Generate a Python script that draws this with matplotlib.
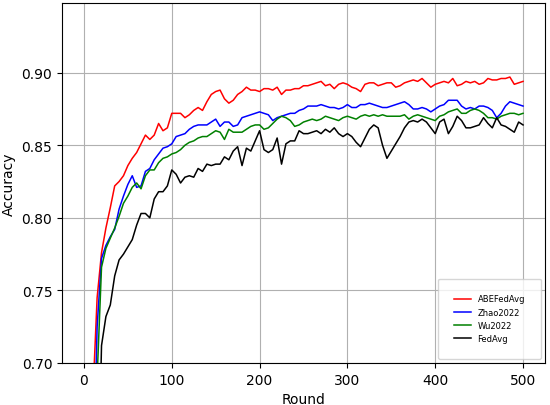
import matplotlib
matplotlib.use("Agg")
import matplotlib.pyplot as plt

# accuracy per round, every 5 rounds
rounds = list(range(0, 501, 5))

abefedavg = [0.30, 0.50, 0.675, 0.745, 0.776, 0.793, 0.807, 0.822, 0.825, 0.829,
             0.836, 0.841, 0.845, 0.851, 0.857, 0.854, 0.857, 0.865, 0.860, 0.862,
             0.872, 0.872, 0.872, 0.869, 0.871, 0.874, 0.876, 0.874, 0.880, 0.885,
             0.887, 0.888, 0.882, 0.879, 0.881, 0.885, 0.887, 0.890, 0.888, 0.888,
             0.887, 0.889, 0.889, 0.888, 0.890, 0.885, 0.888, 0.888, 0.889, 0.889,
             0.891, 0.891, 0.892, 0.893, 0.894, 0.891, 0.892, 0.889, 0.892, 0.893,
             0.892, 0.890, 0.889, 0.887, 0.892, 0.893, 0.893, 0.891, 0.892, 0.893,
             0.893, 0.890, 0.891, 0.893, 0.894, 0.895, 0.894, 0.896, 0.893, 0.890,
             0.892, 0.893, 0.894, 0.893, 0.896, 0.891, 0.892, 0.894, 0.893, 0.894,
             0.892, 0.893, 0.896, 0.895, 0.895, 0.896, 0.896, 0.897, 0.892, 0.893,
             0.894]

zhao2022 = [0.25, 0.42, 0.60, 0.725, 0.772, 0.781, 0.787, 0.792, 0.806, 0.815,
            0.823, 0.829, 0.821, 0.822, 0.832, 0.834, 0.840, 0.844, 0.848, 0.849,
            0.851, 0.856, 0.857, 0.858, 0.861, 0.863, 0.864, 0.864, 0.864, 0.866,
            0.868, 0.863, 0.866, 0.866, 0.863, 0.864, 0.869, 0.870, 0.871, 0.872,
            0.873, 0.872, 0.871, 0.867, 0.869, 0.870, 0.871, 0.872, 0.872, 0.874,
            0.875, 0.877, 0.877, 0.877, 0.878, 0.877, 0.876, 0.876, 0.875, 0.876,
            0.878, 0.876, 0.876, 0.878, 0.878, 0.879, 0.878, 0.877, 0.876, 0.876,
            0.877, 0.878, 0.879, 0.880, 0.878, 0.875, 0.875, 0.876, 0.875, 0.873,
            0.875, 0.877, 0.878, 0.881, 0.881, 0.881, 0.877, 0.875, 0.876, 0.875,
            0.877, 0.877, 0.876, 0.874, 0.869, 0.872, 0.877, 0.880, 0.879, 0.878,
            0.877]

wu2022 = [0.22, 0.38, 0.55, 0.69, 0.766, 0.779, 0.786, 0.793, 0.801, 0.810,
          0.815, 0.821, 0.824, 0.820, 0.829, 0.833, 0.833, 0.838, 0.841, 0.842,
          0.844, 0.845, 0.847, 0.850, 0.852, 0.853, 0.855, 0.856, 0.856, 0.858,
          0.860, 0.859, 0.854, 0.861, 0.859, 0.859, 0.859, 0.861, 0.863, 0.864,
          0.864, 0.861, 0.862, 0.865, 0.868, 0.870, 0.869, 0.867, 0.863, 0.864,
          0.866, 0.867, 0.868, 0.867, 0.868, 0.870, 0.869, 0.868, 0.867, 0.869,
          0.870, 0.869, 0.868, 0.870, 0.871, 0.870, 0.871, 0.870, 0.871, 0.870,
          0.870, 0.870, 0.870, 0.871, 0.868, 0.870, 0.871, 0.870, 0.869, 0.868,
          0.867, 0.870, 0.871, 0.873, 0.874, 0.875, 0.872, 0.872, 0.874, 0.875,
          0.874, 0.872, 0.869, 0.869, 0.868, 0.870, 0.871, 0.872, 0.872, 0.871,
          0.872]

fedavg = [0.10, 0.25, 0.42, 0.58, 0.712, 0.732, 0.740, 0.760, 0.771, 0.775,
          0.780, 0.785, 0.795, 0.803, 0.803, 0.800, 0.813, 0.818, 0.818, 0.822,
          0.833, 0.830, 0.824, 0.828, 0.829, 0.828, 0.834, 0.832, 0.837, 0.836,
          0.837, 0.837, 0.842, 0.840, 0.846, 0.849, 0.836, 0.848, 0.846, 0.853,
          0.860, 0.847, 0.845, 0.847, 0.855, 0.837, 0.851, 0.853, 0.853, 0.860,
          0.858, 0.858, 0.859, 0.860, 0.858, 0.861, 0.859, 0.862, 0.858, 0.856,
          0.858, 0.856, 0.852, 0.849, 0.855, 0.861, 0.864, 0.862, 0.850, 0.841,
          0.846, 0.851, 0.856, 0.862, 0.866, 0.867, 0.866, 0.868, 0.866, 0.862,
          0.858, 0.866, 0.868, 0.858, 0.863, 0.870, 0.867, 0.862, 0.862, 0.863,
          0.864, 0.869, 0.865, 0.862, 0.869, 0.864, 0.863, 0.861, 0.859, 0.866,
          0.864]

fig, ax = plt.subplots(figsize=(5.5, 4.06), dpi=100)
fig.subplots_adjust(left=62/550, right=545/550, top=1-4/406, bottom=1-364/406)

ax.plot(rounds, abefedavg, color='red', lw=1.1, label='ABEFedAvg')
ax.plot(rounds, zhao2022, color='blue', lw=1.1, label='Zhao2022')
ax.plot(rounds, wu2022, color='green', lw=1.1, label='Wu2022')
ax.plot(rounds, fedavg, color='black', lw=1.1, label='FedAvg')

ax.set_ylim(0.70, 0.948)
ax.set_xlabel('Round')
ax.set_ylabel('Accuracy')
ax.grid(True)
ax.legend(loc='lower right', prop={'size': 6}, borderpad=1.9)

plt.savefig('out.png')
